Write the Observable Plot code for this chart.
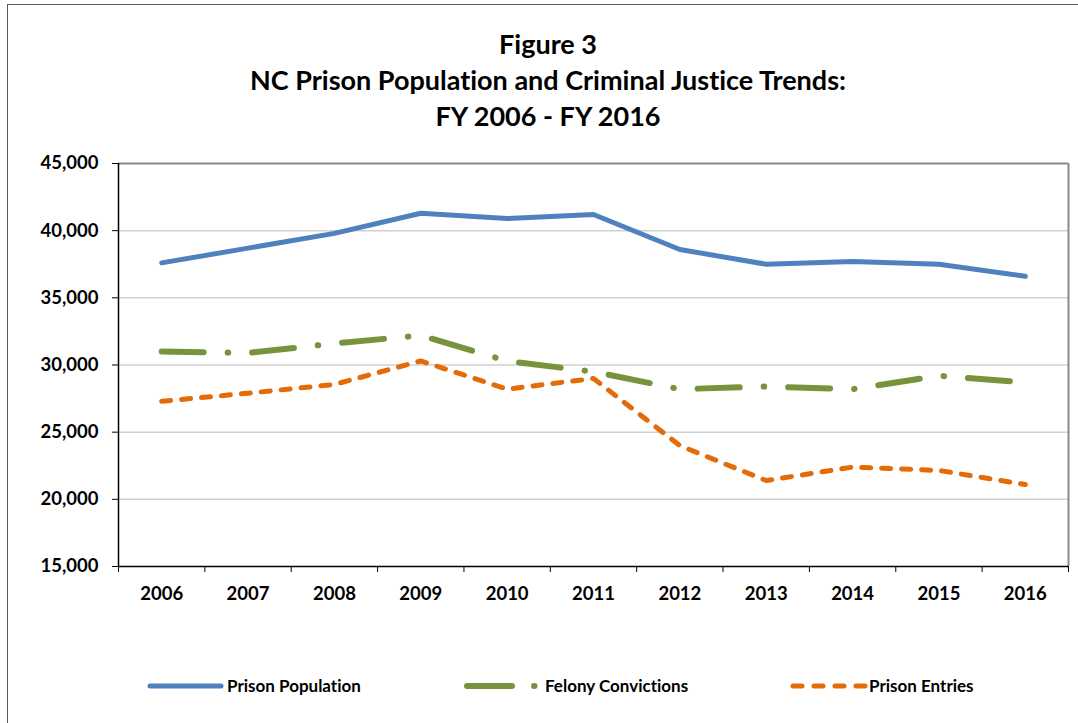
<!DOCTYPE html>
<html>
<head>
<meta charset="utf-8">
<script src="https://cdn.jsdelivr.net/npm/d3@7"></script>
<script src="https://cdn.jsdelivr.net/npm/@observablehq/plot@0.6"></script>
<style>
  body { margin: 0; background: #fff; }
  #wrap { position: relative; width: 1078px; height: 723px; overflow: hidden; font-family: Lato, "Open Sans", sans-serif; font-variant-ligatures: none; font-feature-settings: "liga" 0, "clig" 0; }
  #wrap svg text { font-variant-ligatures: none; font-feature-settings: "liga" 0, "clig" 0; }
  #frame { position: absolute; left: 7px; top: 4px; width: 1100px; height: 760px; border: 1.5px solid #5a5a5a; box-sizing: border-box; }
  #title { position: absolute; left: 7px; width: 1082px; top: 26px; text-align: center; font-weight: 700; font-size: 27px; line-height: 36px; color: #000; }
  #chart { position: absolute; left: 0; top: 143px; }
  #legend { position: absolute; left: 0; top: 674px; width: 1078px; height: 26px; }
  #legend svg { overflow: visible; }
</style>
</head>
<body>
<div id="wrap">
  <div id="frame"></div>
  <div id="title">Figure 3<br>NC Prison Population and Criminal Justice Trends:<br>FY 2006 - FY 2016</div>
  <div id="chart"></div>
  <div id="legend"></div>
</div>
<script>
const years = [2006, 2007, 2008, 2009, 2010, 2011, 2012, 2013, 2014, 2015, 2016];
const prisonPopulation = [37600, 38700, 39800, 41300, 40900, 41200, 38600, 37500, 37700, 37500, 36600];
const felonyConvictions = [31000, 30900, 31600, 32200, 30300, 29500, 28200, 28400, 28200, 29200, 28700];
const prisonEntries = [27300, 27900, 28550, 30300, 28200, 29000, 24000, 21400, 22400, 22150, 21100];
const yTicks = [15000, 20000, 25000, 30000, 35000, 40000, 45000];

const seriesDefs = [
  {name: "Prison Population", values: prisonPopulation, color: "#4F81BD", width: 5, dash: null},
  {name: "Felony Convictions", values: felonyConvictions, color: "#77933C", width: 6, dash: "42,24,0.5,24"},
  {name: "Prison Entries", values: prisonEntries, color: "#E36C09", width: 5, dash: "9,11"}
];

const font = "Lato, 'Open Sans', sans-serif";

const marks = [
  Plot.gridY(yTicks.filter(d => d > 15000 && d < 45000), {stroke: "#d0d0d0", strokeOpacity: 1, strokeWidth: 1.5}),
  Plot.ruleY([45000], {stroke: "#8a8a8a", strokeWidth: 2}),
  Plot.ruleX([2016.5], {stroke: "#8a8a8a", strokeWidth: 2}),
  ...seriesDefs.map(s => Plot.line(years.map((y, i) => ({year: y, value: s.values[i]})), {
    x: "year", y: "value", stroke: s.color, strokeWidth: s.width,
    strokeDasharray: s.dash, strokeLinecap: "round", strokeLinejoin: "round"
  })),
  Plot.ruleX([2005.5], {stroke: "#000", strokeWidth: 1.5}),
  Plot.ruleY([15000], {stroke: "#000", strokeWidth: 1.5}),
  Plot.axisY({ticks: yTicks, tickFormat: d3.format(","), tickSize: 6, tickPadding: 14, fontSize: 18.5, fontWeight: 700, stroke: "#000"}),
  Plot.axisX({ticks: years, tickFormat: d => String(d), tickSize: 0, tickPadding: 20, fontSize: 18.5, fontWeight: 700}),
  Plot.axisX({ticks: d3.range(2005.5, 2017, 1), tickFormat: () => "", tickSize: 6, stroke: "#000"})
];

const chart = Plot.plot({
  width: 1078,
  height: 473,
  marginTop: 20,
  marginLeft: 118,
  marginRight: 10,
  marginBottom: 50,
  style: {fontFamily: font, color: "#000", background: "transparent"},
  x: {type: "linear", domain: [2005.5, 2016.5], label: null},
  y: {domain: [15000, 45000], label: null},
  marks
});
document.getElementById("chart").appendChild(chart);

// Legend
const legendItems = [
  {x0: 150, x1: 221, tx: 227},
  {x0: 467, x1: 540, tx: 545},
  {x0: 793, x1: 865, tx: 869}
];
const lg = d3.select("#legend").append("svg").attr("width", 1078).attr("height", 26);
seriesDefs.forEach((s, i) => {
  const it = legendItems[i];
  lg.append("line").attr("x1", it.x0).attr("x2", it.x1).attr("y1", 12).attr("y2", 12)
    .attr("stroke", s.color).attr("stroke-width", s.width).attr("stroke-linecap", "round")
    .attr("stroke-dasharray", s.dash ? (i === 1 ? "45,22,0.5,30" : "9,12") : null);
  lg.append("text").attr("x", it.tx).attr("y", 12).attr("dy", "0.35em")
    .attr("font-family", font).attr("font-weight", 700).attr("font-size", 17).text(s.name);
});
</script>
</body>
</html>
